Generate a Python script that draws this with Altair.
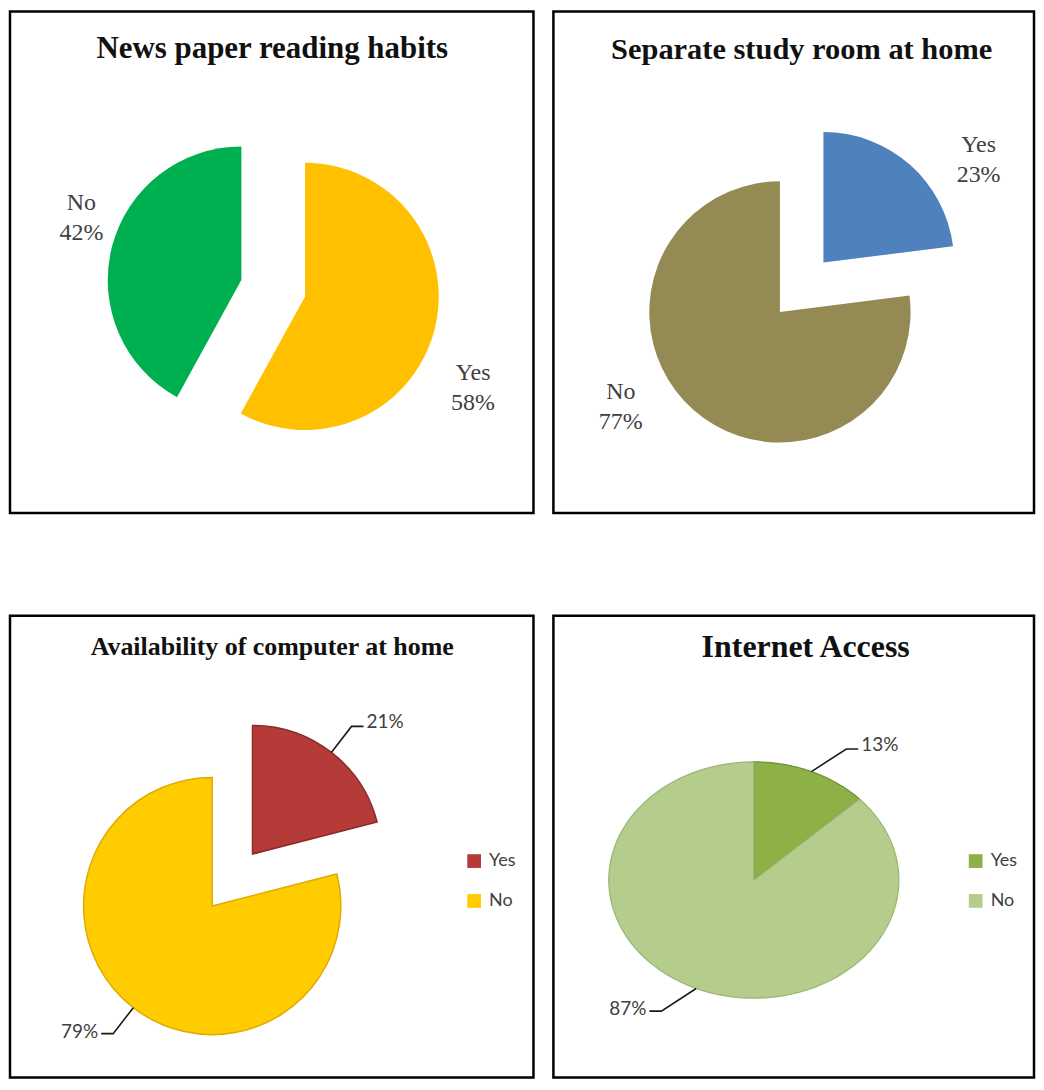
import altair as alt
import pandas as pd

# ---------------- data ----------------
categories = ["Yes", "No"]
titles = [
    "News paper reading habits",
    "Separate study room at home",
    "Availability of computer at home",
    "Internet Access",
]
news_values = [58, 42]
study_values = [23, 77]
computer_values = [21, 79]
internet_values = [13, 87]

# ---------------- styles ----------------
news_colors = ["#FFC000", "#00B050"]
study_colors = ["#4F81BD", "#948A54"]
computer_colors = ["#B53B38", "#FFCC00"]
computer_edges = ["#8A2A28", "#E0AA00"]
internet_colors = ["#8DB146", "#B4CD8C"]
internet_edges = ["#6F8F35", "#9AB572"]

W_L, W_R = 525, 482
H_T, H_B = 503, 463
SERIF = "Liberation Serif"
SANS = "Lato"
LABEL_GREY = "#404040"


def angles(chart, cx, cy, ex):
    return (
        chart.transform_joinaggregate(total="sum(val)")
        .transform_window(cum="sum(val)", sort=[alt.SortField("idx")], frame=[None, 0])
        .transform_calculate(t0="2*PI*(datum.cum - datum.val)/datum.total")
        .transform_calculate(t1="2*PI*datum.cum/datum.total")
        .transform_calculate(mid="(datum.t0 + datum.t1)/2")
        .transform_calculate(px=f"{cx} + {ex}*sin(datum.mid)")
        .transform_calculate(py=f"{cy} - {ex}*cos(datum.mid)")
    )


def make_legend(xy):
    return alt.Legend(
        title=None, orient="none", legendX=xy[0], legendY=xy[1],
        symbolType="square", symbolSize=190, symbolStrokeWidth=0,
        labelFont=SANS, labelFontSize=18, labelColor=LABEL_GREY,
        labelOffset=6, rowPadding=22,
    )


def panel(title, values, colors, w, h, cx, cy, rx, ry, ex, title_x, title_y, title_size,
          style="serif", legend_xy=None, edges=None, ellipse=False,
          lab_r=216, lab_shift=11.5, lab_dx=0, lab_dy=0,
          elbow_rx=160, elbow_ry=160, elbow_shift=0, hseg=10):
    df = pd.DataFrame({"cat": categories, "val": values, "idx": list(range(len(values)))})
    base = angles(alt.Chart(df), cx, cy, ex)

    if legend_xy is not None:
        color = alt.Color("cat:N", scale=alt.Scale(domain=categories, range=colors),
                          legend=make_legend(legend_xy))
    else:
        color = alt.Color("cat:N", scale=alt.Scale(domain=categories, range=colors), legend=None)

    if ellipse:
        pie = base.transform_calculate(steps="sequence(0, 92)").transform_flatten(["steps"]).transform_calculate(
            tt="datum.t0 + (datum.t1 - datum.t0)*(datum.steps - 1)/90"
        ).transform_calculate(
            vx=f"datum.steps == 0 ? datum.px : datum.px + {rx}*sin(datum.tt)",
            vy=f"datum.steps == 0 ? datum.py : datum.py - {ry}*cos(datum.tt)",
        ).mark_line(filled=True, interpolate="linear-closed", strokeWidth=1.2).encode(
            x=alt.X("vx:Q", scale=None, axis=None),
            y=alt.Y("vy:Q", scale=None, axis=None),
            color=color,
            stroke=alt.Stroke("cat:N", scale=alt.Scale(domain=categories, range=edges), legend=None),
            order="steps:Q",
        )
    else:
        enc = dict(
            theta=alt.Theta("t0:Q", scale=None, stack=False),
            theta2="t1:Q",
            x=alt.X("px:Q", scale=None, axis=None, stack=False),
            y=alt.Y("py:Q", scale=None, axis=None, stack=False),
            color=color,
            order=alt.Order("idx:Q"),
        )
        if edges is not None:
            enc["stroke"] = alt.Stroke("cat:N", scale=alt.Scale(domain=categories, range=edges), legend=None)
            pie = base.mark_arc(radius=rx, strokeWidth=1.5).encode(**enc)
        else:
            pie = base.mark_arc(radius=rx).encode(**enc)

    layers = [pie]

    if style == "serif":
        lab = base.transform_calculate(
            txt="datum.cat + '\\n' + datum.val + '%'"
        ).transform_calculate(
            lx=f"{cx} + {lab_r}*sin(datum.mid + {lab_shift}*PI/180)"
        ).transform_calculate(
            ly=f"{cy} - {lab_r}*cos(datum.mid + {lab_shift}*PI/180)"
        ).mark_text(
            font=SERIF, fontSize=24, color=LABEL_GREY, lineBreak="\n",
            align="center", baseline="middle", lineHeight=30, dx=lab_dx, dy=lab_dy,
        ).encode(
            x=alt.X("lx:Q", scale=None, axis=None),
            y=alt.Y("ly:Q", scale=None, axis=None),
            text="txt:N",
        )
        layers.append(lab)
    else:
        lead = base.transform_calculate(
            ex_x=f"datum.px + {elbow_rx}*sin(datum.mid + {elbow_shift}*PI/180)",
            ex_y=f"datum.py - {elbow_ry}*cos(datum.mid + {elbow_shift}*PI/180)",
            side="sin(datum.mid) >= 0 ? 1 : -1",
        )
        pts = lead.transform_calculate(pts="[0, 1, 2]").transform_flatten(["pts"]).transform_calculate(
            lx=f"datum.pts == 0 ? datum.px + {rx}*sin(datum.mid) : (datum.pts == 1 ? datum.ex_x : datum.ex_x + datum.side*{hseg})",
            ly=f"datum.pts == 0 ? datum.py - {ry}*cos(datum.mid) : datum.ex_y",
        )
        line = pts.mark_line(color="#1a1a1a", strokeWidth=1.6).encode(
            x=alt.X("lx:Q", scale=None, axis=None),
            y=alt.Y("ly:Q", scale=None, axis=None),
            detail="cat:N",
            order="pts:Q",
        )
        txt = lead.transform_calculate(
            txt="datum.val + '%'",
            tx=f"datum.ex_x + datum.side*{hseg + 3}",
        )
        right = txt.transform_filter("datum.side > 0").mark_text(
            font=SANS, fontSize=19, color=LABEL_GREY, align="left", baseline="middle", dy=-4
        ).encode(x=alt.X("tx:Q", scale=None), y=alt.Y("ex_y:Q", scale=None), text="txt:N")
        left = txt.transform_filter("datum.side < 0").mark_text(
            font=SANS, fontSize=19, color=LABEL_GREY, align="right", baseline="middle", dy=-2
        ).encode(x=alt.X("tx:Q", scale=None), y=alt.Y("ex_y:Q", scale=None), text="txt:N")
        layers += [line, right, left]

    tdf = pd.DataFrame({"title": [title]})
    ttl = alt.Chart(tdf).mark_text(
        font=SERIF, fontSize=title_size, fontWeight="bold", color="#111111",
        align="center", baseline="alphabetic",
    ).encode(x=alt.value(title_x), y=alt.value(title_y), text="title:N")
    layers.append(ttl)

    return alt.layer(*layers).properties(width=w, height=h).resolve_scale(color="independent", stroke="independent")


p1 = panel(titles[0], news_values, news_colors, W_L, H_T, 264, 277.5, 134, 134, 33, 263, 47, 31,
           lab_r=214, lab_shift=9, lab_dx=4, lab_dy=0)
p2 = panel(titles[1], study_values, study_colors, W_R, H_T, 249, 276.5, 131, 131, 33, 249, 48, 30.5,
           lab_r=218, lab_shift=14, lab_dx=-2, lab_dy=-19)
p3 = panel(titles[2], computer_values, computer_colors, W_L, H_B, 223, 265, 129, 129, 33, 263, 39, 26,
           style="sans", legend_xy=(456.5, 237), edges=computer_edges,
           elbow_rx=162, elbow_ry=162, hseg=12)
p4 = panel(titles[3], internet_values, internet_colors, W_R, H_B, 201, 265, 145.5, 118.5, 0, 253, 41, 32,
           style="sans", legend_xy=(414.5, 237), edges=internet_edges, ellipse=True,
           elbow_rx=178, elbow_ry=154, elbow_shift=8, hseg=12)

top = alt.hconcat(p1, p2, spacing=16).resolve_scale(color="independent", stroke="independent")
bottom = alt.hconcat(p3, p4, spacing=16).resolve_scale(color="independent", stroke="independent")

chart = alt.vconcat(top, bottom, spacing=99).resolve_scale(
    color="independent", stroke="independent"
).properties(
    padding=0, background="white"
).configure_view(stroke="#000000", strokeWidth=2.5, fill="white")

chart.save("out.html", embed_options={"renderer": "svg", "actions": False})
